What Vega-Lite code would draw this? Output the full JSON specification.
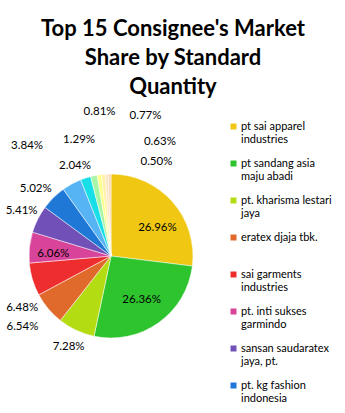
{
  "$schema": "https://vega.github.io/schema/vega-lite/v6.json",
  "autosize": {"type": "none"},
  "padding": {"left": 29, "top": 174, "right": 152, "bottom": 75},
  "width": 164,
  "height": 164,
  "background": "white",
  "config": {"view": {"stroke": null}, "text": {"font": "Lato", "fontSize": 11.5, "color": "black"}},
  "title": {
    "text": ["Top 15 Consignee's Market", "Share by Standard", "Quantity"],
    "font": "Lato",
    "fontSize": 22,
    "fontWeight": "bold",
    "color": "black",
    "lineHeight": 29,
    "anchor": "middle",
    "frame": "group",
    "dx": 62,
    "offset": 6
  },
  "data": {
    "values": [
      {"name": "pt sai apparel industries", "share": 0.2696},
      {"name": "pt sandang asia maju abadi", "share": 0.2636},
      {"name": "pt. kharisma lestari jaya", "share": 0.0728},
      {"name": "eratex djaja tbk.", "share": 0.0654},
      {"name": "sai garments industries", "share": 0.0648},
      {"name": "pt. inti sukses garmindo", "share": 0.0606},
      {"name": "sansan saudaratex jaya, pt.", "share": 0.0541},
      {"name": "pt. kg fashion indonesia", "share": 0.0502},
      {"name": "consignee 9", "share": 0.0384},
      {"name": "consignee 10", "share": 0.0204},
      {"name": "consignee 11", "share": 0.0129},
      {"name": "consignee 12", "share": 0.0081},
      {"name": "consignee 13", "share": 0.0077},
      {"name": "consignee 14", "share": 0.0063},
      {"name": "consignee 15", "share": 0.0050}
    ]
  },
  "encoding": {
    "theta": {"field": "share", "type": "quantitative", "stack": true},
    "order": {"field": "share", "type": "quantitative", "sort": "descending"},
    "color": {
      "field": "name",
      "type": "nominal",
      "sort": null,
      "scale": {
        "domain": ["pt sai apparel industries", "pt sandang asia maju abadi", "pt. kharisma lestari jaya", "eratex djaja tbk.", "sai garments industries", "pt. inti sukses garmindo", "sansan saudaratex jaya, pt.", "pt. kg fashion indonesia", "consignee 9", "consignee 10", "consignee 11", "consignee 12", "consignee 13", "consignee 14", "consignee 15"],
        "range": ["#F0C814", "#2EC42E", "#B4DC12", "#E06A2C", "#EE2E2E", "#D8449A", "#7150B8", "#1F78D6", "#57B4F4", "#18DEE8", "#A8F5A8", "#FFFF88", "#FFF2A6", "#FFE4C0", "#FCD8B4"]
      },
      "legend": {
        "orient": "none",
        "legendX": 199,
        "legendY": -53,
        "title": null,
        "padding": 0,
        "values": ["pt sai apparel industries", "pt sandang asia maju abadi", "pt. kharisma lestari jaya", "eratex djaja tbk.", "sai garments industries", "pt. inti sukses garmindo", "sansan saudaratex jaya, pt.", "pt. kg fashion indonesia"],
        "symbolType": "square",
        "symbolSize": 36,
        "symbolStrokeWidth": 0,
        "labelFont": "Lato",
        "labelFontSize": 11,
        "labelColor": "black",
        "labelLineHeight": 15.7,
        "labelLimit": 200,
        "labelOffset": 2,
        "rowPadding": 12,
        "encode": {"labels": {"update": {"dy": {"value": 7.85}}}},
        "labelExpr": "{'pt sai apparel industries': ['pt sai apparel', 'industries'], 'pt sandang asia maju abadi': ['pt sandang asia', 'maju abadi'], 'pt. kharisma lestari jaya': ['pt. kharisma lestari', 'jaya'], 'eratex djaja tbk.': ['eratex djaja tbk.', ' '], 'sai garments industries': ['sai garments', 'industries'], 'pt. inti sukses garmindo': ['pt. inti sukses', 'garmindo'], 'sansan saudaratex jaya, pt.': ['sansan saudaratex', 'jaya, pt.'], 'pt. kg fashion indonesia': ['pt. kg fashion', 'indonesia']}[datum.label]"
      }
    }
  },
  "layer": [
    {"mark": {"type": "arc", "stroke": "white", "strokeWidth": 0.5}},
    {
      "mark": {"type": "text", "radius": 58, "dx": -3, "dy": -3},
      "encoding": {"color": {"value": "black"}, "text": {"condition": {"test": "datum.share == 0.2636", "field": "share", "type": "quantitative", "format": ".2%"}, "value": ""}}
    },
    {
      "mark": {"type": "text", "radius": 58, "dy": 4},
      "encoding": {"color": {"value": "black"}, "text": {"condition": {"test": "datum.share == 0.0606", "field": "share", "type": "quantitative", "format": ".2%"}, "value": ""}}
    },
    {
      "mark": {"type": "text", "radius": 58, "dx": 3, "dy": 10},
      "encoding": {"color": {"value": "black"}, "text": {"condition": {"test": "datum.share == 0.2696", "field": "share", "type": "quantitative", "format": ".2%"}, "value": ""}}
    },
    {
      "mark": {"type": "text", "radius": 100},
      "encoding": {"color": {"value": "black"}, "text": {"condition": {"test": "datum.share == 0.0728 || datum.share == 0.0541", "field": "share", "type": "quantitative", "format": ".2%"}, "value": ""}}
    },
    {
      "mark": {"type": "text", "radius": 100, "dx": -5, "dy": 4},
      "encoding": {"color": {"value": "black"}, "text": {"condition": {"test": "datum.share == 0.0502", "field": "share", "type": "quantitative", "format": ".2%"}, "value": ""}}
    },
    {
      "mark": {"type": "text", "radius": 100, "dx": -5, "dy": 5},
      "encoding": {"color": {"value": "black"}, "text": {"condition": {"test": "datum.share == 0.0204", "field": "share", "type": "quantitative", "format": ".2%"}, "value": ""}}
    },
    {
      "mark": {"type": "text", "radius": 100, "dx": -12, "dy": 7},
      "encoding": {"color": {"value": "black"}, "text": {"condition": {"test": "datum.share == 0.0654", "field": "share", "type": "quantitative", "format": ".2%"}, "value": ""}}
    },
    {
      "mark": {"type": "text", "radius": 100, "dx": 7, "dy": 23},
      "encoding": {"color": {"value": "black"}, "text": {"condition": {"test": "datum.share == 0.0648", "field": "share", "type": "quantitative", "format": ".2%"}, "value": ""}}
    },
    {
      "mark": {"type": "text", "radius": 100, "dx": -36, "dy": -22},
      "encoding": {"color": {"value": "black"}, "text": {"condition": {"test": "datum.share == 0.0384", "field": "share", "type": "quantitative", "format": ".2%"}, "value": ""}}
    },
    {
      "mark": {"type": "text", "radius": 100, "dx": -11, "dy": -18},
      "encoding": {"color": {"value": "black"}, "text": {"condition": {"test": "datum.share == 0.0129", "field": "share", "type": "quantitative", "format": ".2%"}, "value": ""}}
    },
    {
      "mark": {"type": "text", "radius": 100, "dx": 3, "dy": -45},
      "encoding": {"color": {"value": "black"}, "text": {"condition": {"test": "datum.share == 0.0081", "field": "share", "type": "quantitative", "format": ".2%"}, "value": ""}}
    },
    {
      "mark": {"type": "text", "radius": 100, "dx": 44, "dy": -40},
      "encoding": {"color": {"value": "black"}, "text": {"condition": {"test": "datum.share == 0.0077", "field": "share", "type": "quantitative", "format": ".2%"}, "value": ""}}
    },
    {
      "mark": {"type": "text", "radius": 100, "dx": 54, "dy": -14},
      "encoding": {"color": {"value": "black"}, "text": {"condition": {"test": "datum.share == 0.0063", "field": "share", "type": "quantitative", "format": ".2%"}, "value": ""}}
    },
    {
      "mark": {"type": "text", "radius": 100, "dx": 47, "dy": 6},
      "encoding": {"color": {"value": "black"}, "text": {"condition": {"test": "datum.share == 0.005", "field": "share", "type": "quantitative", "format": ".2%"}, "value": ""}}
    }
  ]
}
